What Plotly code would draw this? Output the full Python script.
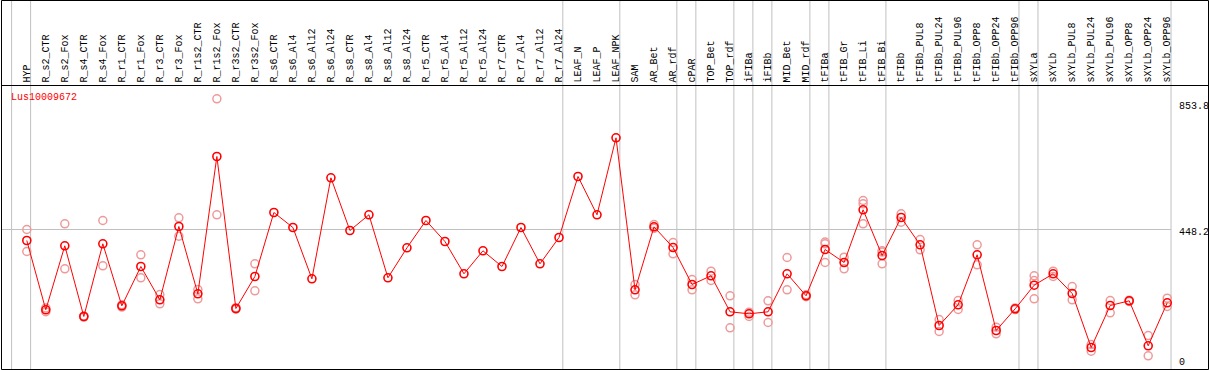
import plotly.graph_objects as go

gene_id = "Lus10009672"

categories = [
    "HYP", "R_s2_CTR", "R_s2_Fox", "R_s4_CTR", "R_s4_Fox", "R_r1_CTR", "R_r1_Fox",
    "R_r3_CTR", "R_r3_Fox", "R_r1s2_CTR", "R_r1s2_Fox", "R_r3s2_CTR", "R_r3s2_Fox",
    "R_s6_CTR", "R_s6_Al4", "R_s6_Al12", "R_s6_Al24", "R_s8_CTR", "R_s8_Al4",
    "R_s8_Al12", "R_s8_Al24", "R_r5_CTR", "R_r5_Al4", "R_r5_Al12", "R_r5_Al24",
    "R_r7_CTR", "R_r7_Al4", "R_r7_Al12", "R_r7_Al24", "LEAF_N", "LEAF_P", "LEAF_NPK",
    "SAM", "AR_Bet", "AR_rdf", "cPAR", "TOP_Bet", "TOP_rdf", "iFIBa", "iFIBb",
    "MID_Bet", "MID_rdf", "tFIBa", "tFIB_Gr", "tFIB_Li", "tFIB_Bi", "tFIBb",
    "tFIBb_PUL8", "tFIBb_PUL24", "tFIBb_PUL96", "tFIBb_OPP8", "tFIBb_OPP24",
    "tFIBb_OPP96", "sXYLa", "sXYLb", "sXYLb_PUL8", "sXYLb_PUL24", "sXYLb_PUL96",
    "sXYLb_OPP8", "sXYLb_OPP24", "sXYLb_OPP96",
]

mean_values = [
    413.0, 191.1, 396.0, 169.7, 402.4, 203.9, 329.7, 223.1, 457.8, 242.4, 681.9,
    195.3, 297.7, 502.6, 454.6, 290.4, 613.7, 445.0, 495.3, 293.6, 389.6, 477.0,
    409.8, 306.4, 380.0, 329.7, 454.6, 338.4, 422.6, 617.9, 495.3, 741.8, 255.2,
    456.8, 390.6, 272.1, 300.0, 184.7, 178.3, 184.7, 306.4, 235.9, 384.2, 342.6,
    511.3, 365.0, 486.6, 399.2, 140.9, 207.1, 367.2, 124.9, 194.3, 269.9, 306.4,
    243.3, 70.4, 204.9, 219.9, 75.9, 213.5,
]

replicates = [
    [448.2, 377.8], [185.0, 197.0], [466.4, 322.4], [168.0, 171.0], [477.0, 332.0],
    [200.0, 207.0], [367.2, 293.6], [240.1, 210.3], [485.7, 426.8], [256.1, 226.3],
    [866.6, 495.3], [193.0, 198.0], [338.4, 252.0],
    [], [], [], [], [], [], [], [], [], [], [], [], [], [], [], [], [], [], [],
    [272.1, 239.2], [464.2, 452.0], [406.6, 370.4], [288.1, 255.2], [314.7, 284.9],
    [235.9, 133.5], [183.4, 169.7], [219.9, 150.5], [358.6, 255.2], [233.0, 239.0],
    [402.4, 408.0, 342.6], [359.5, 322.4], [541.0, 530.5, 466.4], [380.0, 376.0, 338.4],
    [498.5, 471.6], [416.2, 383.2], [160.1, 121.7], [220.9, 192.1], [399.2, 335.2],
    [135.4, 114.3], [192.0, 197.0], [300.0, 284.9, 226.3], [314.7, 297.7],
    [265.7, 223.1], [80.0, 58.6], [220.9, 181.5], [218.0, 222.0], [108.8, 43.9],
    [228.3, 201.7],
]

# indices of the last category of each group (separator drawn just after it)
group_ends = [-1, 0, 28, 31, 34, 35, 37, 38, 39, 41, 42, 45, 52, 53, 60]

y_ticks = [0, 448.2, 853.8]
grid_value = 448.2

W, H = 1209, 370
MONO = "Liberation Mono"

x_idx = list(range(len(categories)))
rep_x, rep_y = [], []
for i, reps in enumerate(replicates):
    for v in reps:
        rep_x.append(i)
        rep_y.append(v)

fig = go.Figure()
fig.add_trace(go.Scatter(
    x=rep_x, y=rep_y, mode="markers",
    marker=dict(symbol="circle-open", size=8, color="#EE9A9A", line=dict(width=1.5)),
    hoverinfo="skip", showlegend=False,
))
fig.add_trace(go.Scatter(
    x=x_idx, y=mean_values, mode="lines+markers",
    line=dict(color="#FF0000", width=1),
    marker=dict(symbol="circle-open", size=8, color="#FF0000", line=dict(width=1.6)),
    showlegend=False,
))

def px_x(p):
    return p / W

def px_y(p):
    return 1 - p / H

header_px = 85.5
ydom_top = px_y(header_px)
scale = 0.31236  # px per unit
y_lo = -0.5 / scale
y_hi = (369.5 - header_px) / scale

x_step = 19.007
x_first = 26.8
x_lo = -x_first / x_step
x_hi = (W - x_first) / x_step

shapes = []
for k in group_ends:
    shapes.append(dict(type="line", xref="x", yref="paper", x0=k + 0.2, x1=k + 0.2,
                       y0=0, y1=1, line=dict(color="#C0C0C0", width=1), layer="below"))
shapes.append(dict(type="line", xref="paper", yref="y", x0=px_x(1.5), x1=px_x(26.8 + x_step * 60.2),
                   y0=grid_value, y1=grid_value, line=dict(color="#C0C0C0", width=1), layer="below"))
shapes.append(dict(type="line", xref="paper", yref="paper", x0=px_x(1.5), x1=px_x(1208.5),
                   y0=ydom_top, y1=ydom_top, line=dict(color="black", width=1)))
shapes.append(dict(type="rect", xref="paper", yref="paper", x0=px_x(1.5), x1=px_x(1208.5),
                   y0=px_y(369.5), y1=px_y(0.5), line=dict(color="black", width=1)))

annotations = [
    dict(text=gene_id, xref="paper", yref="paper", x=px_x(9), y=px_y(98),
         xanchor="left", yanchor="middle", showarrow=False,
         font=dict(family=MONO, size=10, color="#FF0000")),
]
label_rows = {0: 362.7, 448.2: 232.7, 853.8: 106.7}
for t in y_ticks:
    annotations.append(dict(text=str(t), xref="paper", yref="paper", x=px_x(1177),
                            y=px_y(label_rows[t]), xanchor="left", yanchor="middle",
                            showarrow=False, font=dict(family=MONO, size=10, color="black")))

fig.update_layout(
    width=W, height=H,
    margin=dict(l=0, r=0, t=0, b=0, pad=0),
    paper_bgcolor="white", plot_bgcolor="white",
    xaxis=dict(range=[x_lo, x_hi], domain=[0, 1], side="top", tickmode="array",
               tickvals=x_idx, ticktext=categories, tickangle=-90, ticks="",
               ticklabelstandoff=2,
               showgrid=False, zeroline=False, showline=False,
               tickfont=dict(family=MONO, size=10, color="black")),
    yaxis=dict(range=[y_lo, y_hi], domain=[0, ydom_top], showticklabels=False,
               showgrid=False, zeroline=False, showline=False, ticks=""),
    shapes=shapes, annotations=annotations,
)

fig.write_html("out.html", config={"displayModeBar": False},
               post_script="document.body.style.margin='0';")
